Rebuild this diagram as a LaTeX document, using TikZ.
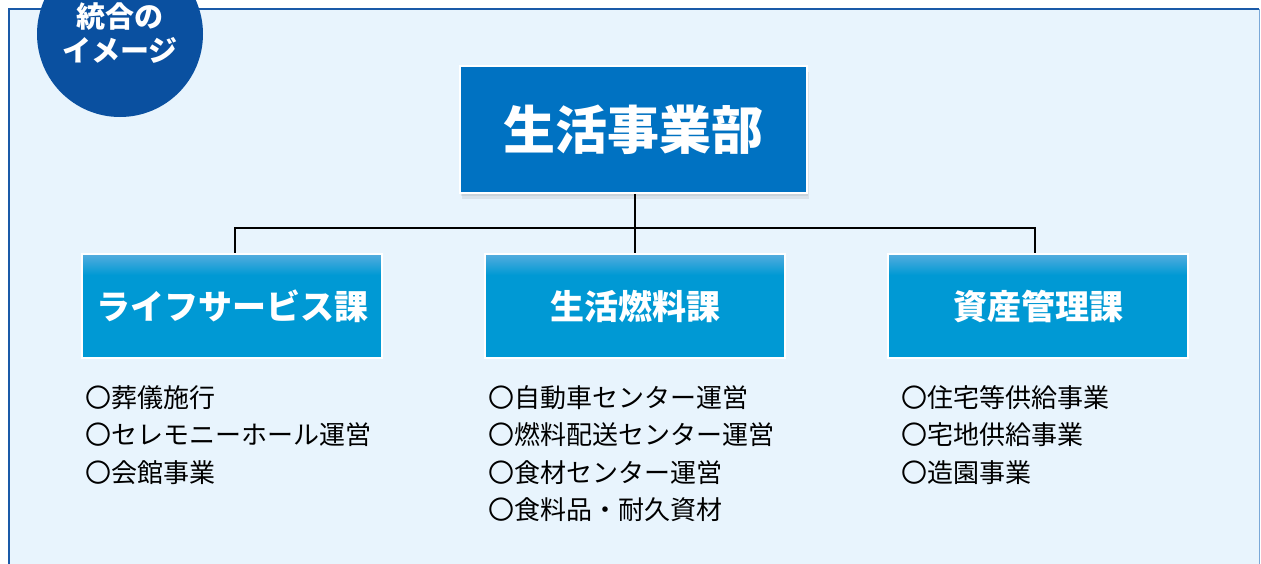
\documentclass[tikz,border=0pt]{standalone}
\usepackage{fontspec}
\setmainfont{Noto Sans CJK JP}
\usetikzlibrary{shadows,positioning}
\definecolor{panelbg}{HTML}{E8F4FD}
\definecolor{panelline}{HTML}{1A5AA8}
\definecolor{panelright}{HTML}{7AA8D8}
\definecolor{badge}{HTML}{0A50A0}
\definecolor{mainblue}{HTML}{0072C2}
\definecolor{subblue}{HTML}{0099D4}
\definecolor{subtop}{HTML}{55ADDE}
\tikzset{
  mainbox/.style={draw=white, line width=2pt, fill=mainblue, minimum width=347pt, minimum height=127pt,
    inner sep=0pt, text=white, font=\fontsize{52pt}{60pt}\selectfont\bfseries,
    drop shadow={opacity=0.15, shadow xshift=1pt, shadow yshift=-3pt},
    drop shadow={opacity=0.15, shadow xshift=2pt, shadow yshift=-6pt}},
  subbox/.style={draw=white, line width=1.2pt, fill=subblue, minimum width=300pt, minimum height=104pt,
    inner sep=0pt, text=white, font=\fontsize{34pt}{40pt}\selectfont\bfseries,
    path picture={\foreach \k in {0,...,21}{
        \pgfmathsetmacro{\pc}{100-100*\k/21}
        \fill[subtop!\pc!subblue] ([yshift=-\k pt]path picture bounding box.north west) rectangle ([yshift=-\k pt-1.2pt]path picture bounding box.north east);}}},
  listtext/.style={anchor=north west, inner sep=0pt, align=left, text=black,
    font=\fontsize{26pt}{37.5pt}\selectfont},
  conn/.style={draw=black, line width=1.6pt},
}
\begin{document}
\begin{tikzpicture}[x=1pt,y=-1pt]
\useasboundingbox (0,0) rectangle (1261,563);
% panel
\fill[panelbg] (9,9) rectangle (1260,575);
\draw[panelline, line width=2.5pt] (9,575) -- (9,9) -- (1259,9);
\draw[panelright, line width=1.5pt] (1259.5,9) -- (1259.5,575);
% badge
\node[circle, fill=badge, minimum size=166pt, inner sep=0pt] (badge) at (120,34) {};
\node[text=white, font=\fontsize{29pt}{34pt}\selectfont\bfseries, align=center, inner sep=0pt] (badgetext) at (120,33) {統合の\\イメージ};
% main
\node[mainbox] (main) at (633.5,129.5) {生活事業部};
% sub
\node[subbox] (s1) at (232,306) {ライフサービス課};
\node[subbox] (s2) at (635,306) {生活燃料課};
\node[subbox] (s3) at (1038,306) {資産管理課};
% connectors
\coordinate (hub) at (635,228);
\coordinate (c1) at ([xshift=3pt]s1.north);
\coordinate (c3) at ([xshift=-3pt]s3.north);
\draw[conn] (main.south -| hub) -- (hub);
\draw[conn] (hub) -- (hub -| c1) -- (c1);
\draw[conn] (hub) -- (s2.north);
\draw[conn] (hub) -- (hub -| c3) -- (c3);
% lists
\node[listtext] (l1) at (85,385) {〇葬儀施行\\〇セレモニーホール運営\\〇会館事業};
\node[listtext] (l2) at (488,385) {〇自動車センター運営\\〇燃料配送センター運営\\〇食材センター運営\\〇食料品・耐久資材};
\node[listtext] (l3) at (901,385) {〇住宅等供給事業\\〇宅地供給事業\\〇造園事業};
\end{tikzpicture}
\end{document}
